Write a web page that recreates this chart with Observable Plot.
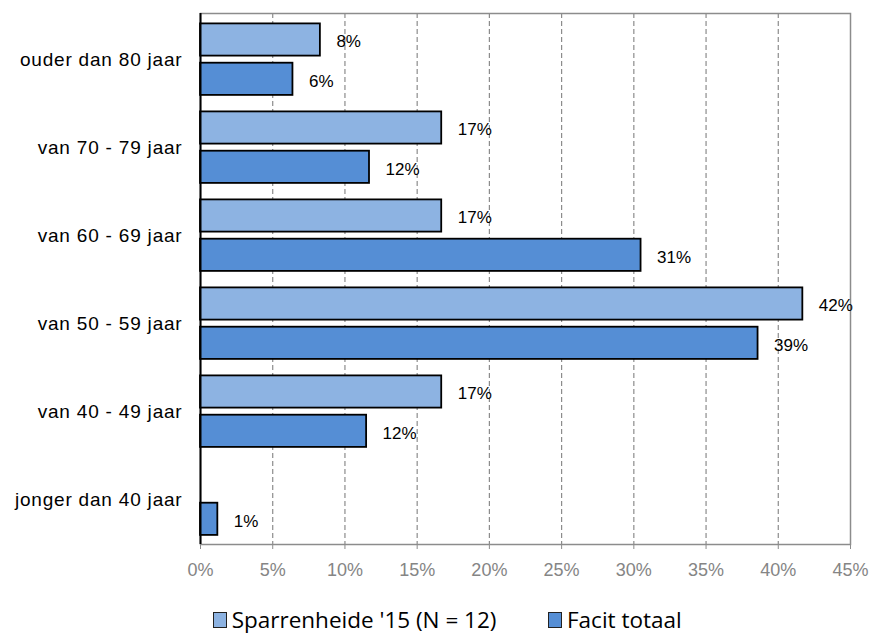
<!DOCTYPE html>
<html><head><meta charset="utf-8">
<script src="https://cdn.jsdelivr.net/npm/d3@7"></script>
<script src="https://cdn.jsdelivr.net/npm/@observablehq/plot@0.6"></script>
<style>
body{margin:0;background:#fff;}
#wrap{position:relative;width:872px;height:637px;overflow:hidden;}
.leg{position:absolute;top:605px;height:30px;font-family:"Open Sans","Noto Sans",sans-serif;font-size:22.5px;line-height:30px;color:#000;display:flex;align-items:center;white-space:nowrap;}
.sw{width:14px;height:16px;border:1.3px solid #222;box-sizing:border-box;margin-right:5px;}
svg g[aria-label="y-axis tick label"] text{letter-spacing:0.8px;}
</style></head><body><div id="wrap"></div>
<script>
const categories = ["ouder dan 80 jaar","van 70 - 79 jaar","van 60 - 69 jaar","van 50 - 59 jaar","van 40 - 49 jaar","jonger dan 40 jaar"];
const seriesNames = ["Sparrenheide '15 (N = 12)","Facit totaal"];
const seriesColors = ["#8DB3E2","#558ED5"];
const sparrenheide = [8.3,16.7,16.7,41.7,16.7,0];
const facit = [6.4,11.7,30.5,38.6,11.5,1.2];
const xTicks = [0,5,10,15,20,25,30,35,40,45];

const spData = categories.map((c,i)=>({category:c, value:sparrenheide[i]}));
const faData = categories.map((c,i)=>({category:c, value:facit[i]}));
const fmt = d => Math.round(d.value) + "%";

const chart = Plot.plot({
  width: 872,
  height: 595,
  marginLeft: 200,
  marginRight: 22,
  marginTop: 13,
  marginBottom: 51,
  style: {fontFamily: "'Liberation Sans', Arial, sans-serif", background: "#fff"},
  x: {domain: [0,45], axis: null},
  y: {type: "band", domain: categories, padding: 0, axis: null},
  marks: [
    Plot.gridX(xTicks.filter(t => t > 0 && t < 45), {stroke: "#8c8c8c", strokeOpacity: 1, strokeWidth: 1.2, strokeDasharray: "5,3"}),
    Plot.frame({stroke: "#8c8c8c", strokeWidth: 1.5}),
    Plot.barX(spData.filter(d => d.value > 0), {x: "value", y: "category", fill: seriesColors[0], stroke: "#000", strokeWidth: 1.8, insetTop: 8.4, insetBottom: 47.4}),
    Plot.barX(faData.filter(d => d.value > 0), {x: "value", y: "category", fill: seriesColors[1], stroke: "#000", strokeWidth: 1.8, insetTop: 47.7, insetBottom: 8.1}),
    Plot.text(spData.filter(d => d.value > 0), {x: "value", y: "category", text: fmt, dx: 16, dy: -18, textAnchor: "start", fontSize: 17, fill: "#000"}),
    Plot.text(faData.filter(d => d.value > 0), {x: "value", y: "category", text: fmt, dx: 16, dy: 22, textAnchor: "start", fontSize: 17, fill: "#000"}),
    Plot.ruleX([0], {stroke: "#000", strokeWidth: 2}),
    Plot.axisX({ticks: xTicks, tickFormat: d => d + "%", tickSize: 5, tickPadding: 14, fontSize: 18, color: "#858585", stroke: "#8c8c8c", label: null}),
    Plot.axisY({tickSize: 0, tickPadding: 18, fontSize: 19, fill: "#000", label: null})
  ]
});
const wrap = document.getElementById("wrap");
wrap.appendChild(chart);

const legLeft = [212.7, 548];
seriesNames.forEach((name,i) => {
  const item = document.createElement("div");
  item.className = "leg";
  item.style.left = legLeft[i] + "px";
  const sw = document.createElement("span");
  sw.className = "sw";
  sw.style.background = seriesColors[i];
  const t = document.createElement("span");
  t.textContent = name;
  item.appendChild(sw); item.appendChild(t);
  wrap.appendChild(item);
});
</script></body></html>
